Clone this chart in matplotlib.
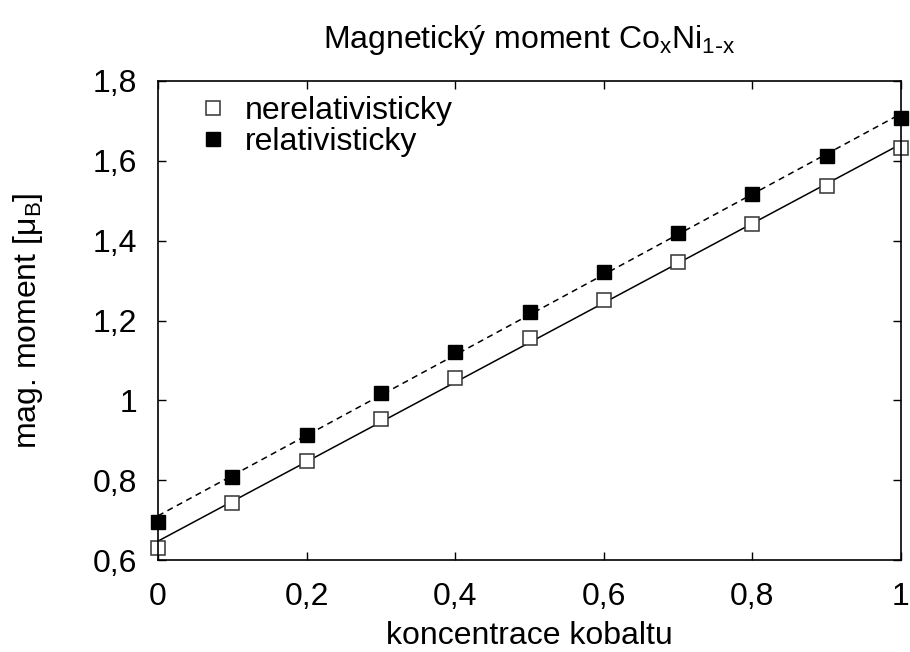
import numpy as np
import matplotlib
matplotlib.use("Agg")
import matplotlib.pyplot as plt
from matplotlib.ticker import FuncFormatter

plt.rcParams['font.family'] = ['Liberation Sans', 'DejaVu Sans']
plt.rcParams['mathtext.default'] = 'regular'

# koncentrace Co
koncentrace = [0.0, 0.1, 0.2, 0.3, 0.4, 0.5, 0.6, 0.7, 0.8, 0.9, 1.0]
# magneticky moment [mu_B]
nerelativisticky = [0.630, 0.743, 0.848, 0.953, 1.055, 1.155, 1.252, 1.347, 1.442, 1.536, 1.631]
relativisticky = [0.696, 0.808, 0.914, 1.019, 1.122, 1.222, 1.322, 1.419, 1.517, 1.612, 1.707]

x_ticks = [0, 0.2, 0.4, 0.6, 0.8, 1.0]
y_ticks = [0.6, 0.8, 1.0, 1.2, 1.4, 1.6, 1.8]

FS = 23


def carka(v, pos):
    return ('%g' % v).replace('.', ',')


fig = plt.figure(figsize=(9.1, 6.52), dpi=100)
ax = fig.add_axes([158 / 910, 92 / 652, (901 - 158) / 910, (560 - 81) / 652])

x = np.array(koncentrace)
# linearni fit pres body
k1 = np.polyfit(x, nerelativisticky, 1)
k2 = np.polyfit(x, relativisticky, 1)
xx = np.array([0.0, 1.0])
ax.plot(xx, np.polyval(k1, xx), '-', color='black', lw=1.1)
ax.plot(xx, np.polyval(k2, xx), '--', color='black', lw=1.1, dashes=(4, 3))

ax.plot(x, nerelativisticky, 's', ms=9.5, mfc='white', mec='#333333', mew=1.1,
        label='nerelativisticky', clip_on=False)
ax.plot(x, relativisticky, 's', ms=9.5, mfc='black', mec='black', mew=1.0,
        label='relativisticky', clip_on=False)

ax.set_xlim(0, 1)
ax.set_ylim(0.6, 1.8)
ax.set_xticks(x_ticks)
ax.set_yticks(y_ticks)
ax.xaxis.set_major_formatter(FuncFormatter(carka))
ax.yaxis.set_major_formatter(FuncFormatter(carka))
ax.tick_params(direction='in', length=6, width=1, top=True, right=True, labelsize=FS)
ax.tick_params(axis='x', pad=16)
ax.tick_params(axis='y', pad=15)
for s in ax.spines.values():
    s.set_linewidth(1.2)

ax.set_xlabel('koncentrace kobaltu', fontsize=FS, labelpad=6)
ax.set_ylabel('mag. moment [μ$_B$]', fontsize=FS, labelpad=34)
ax.set_title(r'Magnetický moment Co$_x$Ni$_{1\text{-}x}$', fontsize=FS, pad=24)

leg = ax.legend(loc='upper left', frameon=False, fontsize=FS, handletextpad=0.3,
                borderaxespad=0.0, labelspacing=0.02, handlelength=1.4,
                bbox_to_anchor=(0.027, 0.995))

fig.savefig('out.png', dpi=100)
